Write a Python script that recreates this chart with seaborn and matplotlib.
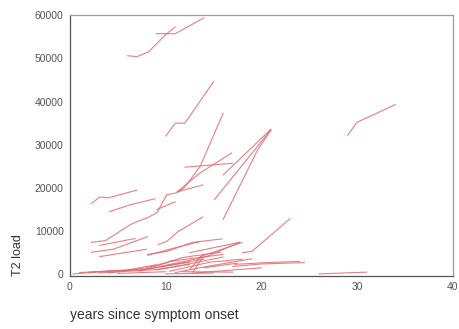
import matplotlib
matplotlib.use("Agg")
import matplotlib.pyplot as plt
import seaborn as sns
import pandas as pd

# ---- data: one list of follow-up years and one of T2 loads per patient ----
years = [
    [6.0, 7.0, 8.2, 10.0, 11.0],
    [9.0, 11.0, 14.0],
    [10.0, 11.0, 12.0, 15.0],
    [29.0, 30.0, 34.0],
    [2.2, 3.7, 6.3, 7.0, 8.1, 9.1, 10.1, 11.2, 12.0, 13.6, 16.0],
    [11.2, 13.6, 16.9],
    [12.0, 17.0],
    [16.0, 21.0],
    [15.1, 21.0],
    [16.0, 19.6, 21.0],
    [11.2, 13.9],
    [9.1, 11.0],
    [9.2, 10.1, 11.3, 13.9],
    [2.2, 3.1, 4.0, 7.0],
    [4.1, 6.3, 8.9],
    [3.1, 6.8],
    [2.2, 4.5, 8.1],
    [3.1, 8.0],
    [8.1, 10.4, 13.6],
    [8.1, 10.1, 12.8, 15.9],
    [12.5, 17.7],
    [13.6, 18.0],
    [18.0, 19.0, 23.0],
    [17.2, 20.5, 24.0],
    [10.4, 16.0],
    [10.4, 14.6, 18.0],
    [11.8, 17.0],
    [12.8, 13.9],
    [26.0, 31.0],
    [0.3, 4.2, 8.0, 12.5],
    [3.0, 9.0, 12.5],
    [1.0, 7.0],
    [2.0, 6.0, 9.0],
    [4.0, 8.0, 11.0],
    [7.0, 10.0, 14.0],
    [9.0, 12.0, 16.0],
    [11.0, 14.0, 19.0],
    [5.0, 10.0],
    [10.0, 15.0],
    [13.0, 20.0],
    [14.0, 17.5],
    [7.3, 11.8, 15.7],
    [9.4, 14.3, 17.7],
    [12.5, 13.9],
    [17.0, 20.0, 24.5],
]
loads = [
    [50600, 50400, 51500, 55500, 57300],
    [55700, 55700, 59400],
    [32000, 35000, 35000, 44600],
    [32200, 35200, 39300],
    [7400, 7800, 11500, 12200, 13100, 14300, 18400, 18900, 20200, 25000, 37300],
    [19100, 23500, 28100],
    [24800, 25700],
    [23000, 33600],
    [17300, 33500],
    [12700, 28800, 33400],
    [19100, 20700],
    [15000, 16800],
    [6900, 7600, 9900, 13300],
    [16300, 17900, 17700, 19500],
    [14500, 16100, 17500],
    [6700, 8300],
    [5100, 5800, 8700],
    [4100, 5800],
    [4400, 5800, 7600],
    [4600, 5300, 7400, 8200],
    [5000, 7400],
    [4100, 7400],
    [5000, 5300, 12900],
    [2300, 2700, 3000],
    [3000, 4600],
    [700, 2800, 3500],
    [600, 500],
    [400, 4000],
    [100, 500],
    [100, 700, 1150, 2800],
    [300, 1100, 2300],
    [400, 1100],
    [500, 1000, 2200],
    [300, 1500, 3300],
    [800, 2000, 3500],
    [1000, 2200, 4000],
    [400, 1700, 3600],
    [200, 600],
    [100, 300],
    [300, 1500],
    [1500, 2600],
    [700, 3900, 5100],
    [1800, 4100, 7400],
    [1100, 4600],
    [1800, 2400, 2700],
]
x_ticks = [0, 10, 20, 30, 40]
y_ticks = [0, 10000, 20000, 30000, 40000, 50000, 60000]

rows = []
for pid, (xs, ys) in enumerate(zip(years, loads)):
    for xv, yv in zip(xs, ys):
        rows.append({"patient": pid, "year": xv, "load": yv})
df = pd.DataFrame(rows)

sns.set_style("white")
plt.rcParams["font.family"] = ["Liberation Sans", "DejaVu Sans"]

fig = plt.figure(figsize=(4.59, 3.29), dpi=100)
ax = fig.add_axes([0.1525, 0.161, 0.834, 0.793])

sns.lineplot(data=df, x="year", y="load", units="patient", estimator=None,
             color="#e46872", linewidth=0.8, alpha=0.85, ax=ax, legend=False)

ax.set_xlim(0, 40)
ax.set_ylim(-400, 60000)
ax.set_xticks(x_ticks)
ax.set_yticks(y_ticks)
ax.set_xticklabels([str(t) for t in x_ticks])
ax.set_yticklabels([str(t) for t in y_ticks])
ax.tick_params(direction="out", length=2.5, width=0.9, colors="#555555",
               labelcolor="#555555", labelsize=7.5, pad=2)

for side in ["left", "bottom"]:
    ax.spines[side].set_color("#555555")
    ax.spines[side].set_linewidth(0.9)
for side in ["top", "right"]:
    ax.spines[side].set_color("#9a9a9a")
    ax.spines[side].set_linewidth(0.9)

ax.set_xlabel("years since symptom onset", fontsize=10, color="#333333",
              loc="left", labelpad=11)
ax.set_ylabel("T2 load", fontsize=9, color="#333333", loc="bottom", labelpad=8)

fig.savefig("out.png", dpi=100)
